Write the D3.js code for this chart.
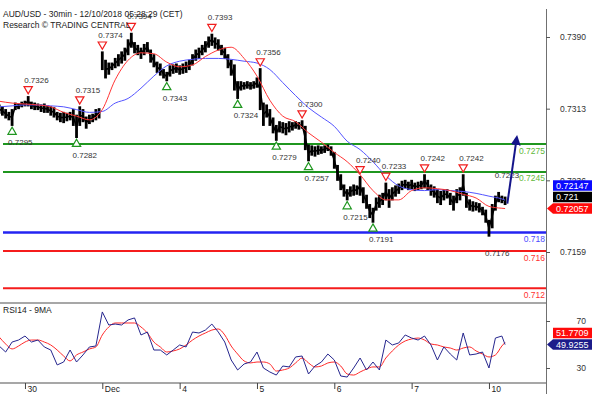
<!DOCTYPE html>
<html>
<head>
<meta charset="utf-8">
<script src="https://cdn.jsdelivr.net/npm/d3@7"></script>
<style>
  body { margin: 0; background: #fff; }
  svg text { font-family: "Liberation Sans", Arial, sans-serif; }
</style>
</head>
<body>
<div id="chart"></div>
<script>
const barHigh = [
  0.7317,0.7315,0.7312,0.7309,0.7312,0.7319,0.7318,0.7320,0.7321,0.7326,
  0.7320,0.7319,0.7318,0.7317,0.7318,0.7316,0.7315,0.7314,0.7309,0.7308,
  0.7309,0.7308,0.7309,0.7312,0.7306,0.7315,0.7312,0.7304,0.7306,0.7307,
  0.7312,0.7313,0.7374,0.7365,0.7362,0.7362,0.7367,0.7371,0.7374,0.7378,
  0.7387,0.7394,0.7384,0.7381,0.7378,0.7382,0.7384,0.7376,0.7371,0.7363,
  0.7361,0.7355,0.7352,0.7359,0.7360,0.7361,0.7359,0.7361,0.7363,0.7365,
  0.7371,0.7376,0.7378,0.7381,0.7385,0.7390,0.7393,0.7389,0.7387,0.7381,
  0.7378,0.7371,0.7365,0.7360,0.7342,0.7342,0.7341,0.7342,0.7341,0.7342,
  0.7346,0.7356,0.7319,0.7317,0.7312,0.7303,0.7295,0.7299,0.7298,0.7297,
  0.7299,0.7298,0.7299,0.7298,0.7300,0.7294,0.7274,0.7273,0.7272,0.7273,
  0.7272,0.7273,0.7274,0.7272,0.7266,0.7252,0.7242,0.7231,0.7226,0.7229,
  0.7231,0.7230,0.7240,0.7228,0.7220,0.7210,0.7206,0.7217,0.7220,0.7222,
  0.7233,0.7226,0.7228,0.7230,0.7232,0.7235,0.7236,0.7234,0.7236,0.7233,
  0.7234,0.7235,0.7242,0.7236,0.7231,0.7229,0.7226,0.7224,0.7226,0.7226,
  0.7222,0.7219,0.7226,0.7228,0.7242,0.7222,0.7215,0.7213,0.7212,0.7211,
  0.7207,0.7204,0.7193,0.7210,0.7219,0.7223,0.7219,0.7218
];
const barLow = [
  0.7308,0.7306,0.7303,0.7301,0.7295,0.7312,0.7313,0.7315,0.7316,0.7316,
  0.7313,0.7312,0.7312,0.7310,0.7309,0.7309,0.7306,0.7304,0.7301,0.7299,
  0.7298,0.7300,0.7301,0.7295,0.7282,0.7295,0.7299,0.7292,0.7297,0.7299,
  0.7301,0.7303,0.7355,0.7346,0.7350,0.7355,0.7357,0.7359,0.7362,0.7365,
  0.7371,0.7379,0.7373,0.7371,0.7367,0.7371,0.7374,0.7363,0.7358,0.7352,
  0.7349,0.7346,0.7343,0.7348,0.7351,0.7352,0.7350,0.7351,0.7352,0.7355,
  0.7360,0.7365,0.7367,0.7371,0.7374,0.7379,0.7381,0.7378,0.7376,0.7371,
  0.7367,0.7357,0.7349,0.7333,0.7324,0.7333,0.7334,0.7335,0.7334,0.7335,
  0.7336,0.7312,0.7295,0.7304,0.7295,0.7287,0.7279,0.7288,0.7287,0.7285,
  0.7288,0.7290,0.7292,0.7291,0.7292,0.7269,0.7257,0.7263,0.7262,0.7264,
  0.7265,0.7266,0.7268,0.7263,0.7249,0.7236,0.7226,0.7219,0.7215,0.7219,
  0.7220,0.7221,0.7220,0.7212,0.7206,0.7196,0.7191,0.7204,0.7207,0.7210,
  0.7215,0.7207,0.7215,0.7219,0.7222,0.7226,0.7228,0.7226,0.7227,0.7225,
  0.7226,0.7227,0.7228,0.7226,0.7220,0.7218,0.7212,0.7210,0.7215,0.7217,
  0.7210,0.7204,0.7212,0.7215,0.7220,0.7207,0.7204,0.7203,0.7204,0.7202,
  0.7199,0.7191,0.7176,0.7185,0.7204,0.7213,0.7212,0.7210
];

// moving averages, read every 4 bars
const maIdx = [0,4,8,12,16,20,24,28,32,36,40,44,48,52,56,60,64,68,72,76,80,
  84,88,92,96,100,104,108,112,116,120,124,128,132,136,140,144,148,152,156,157];
const maRed = [0.7321,0.7319,0.7318,0.7317,0.7315,0.7309,0.7305,0.7301,0.7312,0.7344,
  0.7365,0.7373,0.7372,0.7363,0.7358,0.7360,0.7369,0.7376,0.7379,0.7367,
  0.7348,0.7322,0.7305,0.7299,0.7287,0.7277,0.7266,0.7256,0.7242,0.7225,
  0.7215,0.7215,0.7225,0.7228,0.7227,0.7225,0.7221,0.7217,0.7208,0.7206,0.72057];
const maBlue = [0.7315,0.7316,0.7317,0.7317,0.7316,0.7315,0.7312,0.7309,0.7310,0.7319,
  0.7324,0.7335,0.7348,0.7359,0.7364,0.7366,0.7367,0.7367,0.7366,0.7364,
  0.7362,0.7355,0.7341,0.7327,0.7314,0.7304,0.7294,0.7278,0.7269,0.7256,
  0.7241,0.7230,0.7226,0.7225,0.7226,0.7225,0.7224,0.7222,0.7219,0.7216,0.72147];

// RSI14 and its 9MA, read every 2 bars
const rsiStep = 2;
const rsi = [
  48.7,43.6,52.1,53.8,57.2,52.1,53.8,47.9,45.3,32.6,35.1,45.3,35.1,41.1,47.9,48.7,
  77.7,66.6,67.4,66.6,70.9,72.6,58.1,60.6,45.3,45.3,41.1,45.3,49.6,47.9,60.6,59.8,
  62.3,67.4,60.6,52.1,36.8,28.3,33.4,35.1,43.6,30.0,26.6,24.0,31.7,30.9,39.4,40.2,
  24.9,31.7,35.1,41.9,36.8,23.2,22.3,30.0,38.5,28.3,35.1,28.3,53.8,49.6,51.3,58.1,
  55.5,53.8,57.2,49.6,36.8,47.9,41.9,36.8,59.8,41.1,41.9,43.6,30.0,55.5,57.2
];
const rsiMa = [
  56.4,50.4,46.2,48.7,52.1,53.8,53.8,52.1,49.6,45.3,40.2,36.0,41.1,43.6,46.2,47.9,
  58.1,64.9,68.3,68.3,68.3,68.3,64.9,59.8,52.1,47.9,43.6,44.5,46.2,49.6,53.8,57.2,
  59.8,62.3,63.2,58.1,48.7,41.9,36.0,34.3,35.1,35.1,33.4,27.4,28.3,30.0,34.3,38.5,
  34.3,30.9,31.7,34.3,35.1,31.7,24.9,24.0,26.6,29.1,30.9,30.9,38.5,44.5,49.6,53.0,
  54.7,55.5,53.8,50.4,49.6,47.9,47.0,45.3,47.0,47.9,44.5,41.9,39.4,41.1,48.7
];
const lastIdx = 157;
const rsiLast = 49.9255;
const rsiMaLast = 51.7709;

// support / resistance levels
const levels = [0.7275, 0.7245, 0.718, 0.716, 0.712];
const levelText = ['0.7275', '0.7245', '0.718', '0.716', '0.712'];
const levelKind = ['g', 'g', 'b', 'r', 'r'];

// pivots: [bar index, price, draw triangle]
const pivotHighs = [[9,0.7326,1],[25,0.7315,1],[32,0.7374,1],[41,0.7394,1],[66,0.7393,1],
  [81,0.7356,1],[94,0.7300,1],[112,0.7240,1],[120,0.7233,1],[132,0.7242,1],[144,0.7242,1],[155,0.7223,0]];
const pivotLows = [[4,0.7295,1],[24,0.7282,1],[52,0.7343,1],[74,0.7324,1],[86,0.7279,1],
  [96,0.7257,1],[108,0.7215,1],[116,0.7191,1],[152,0.7176,0]];

const priceTicks = [0.7390, 0.7313, 0.7236, 0.7159];
const rsiTicks = [70, 30];
const dayIdx = [8, 32, 56, 80, 104, 128, 152];
const dayLabels = ['30', 'Dec', '4', '5', '6', '7', '10'];

const lastPrice = 0.721;
const arrowFrom = [157.7, 0.7211];
const arrowTo = [160.3, 0.7274];

// ---- layout
const W = 593, H = 394;
const plotR = 546;
const col = {
  g: '#1f961f', gText: '#5fb83a', b: '#2424f2', bText: '#4a4aff', r: '#f51c1c', rText: '#ff3030',
  maRed: '#ff3535', maBlue: '#5454ff', rsi: '#26268e', rsiMa: '#ff2a2a', axis: '#8a8a8a', text: '#333'
};

const svg = d3.select('#chart').append('svg').attr('width', W).attr('height', H);

const x = d3.scaleLinear().domain([0, 169.7]).range([-0.8, plotR]);
const y = d3.scaleLinear().domain([0.7159, 0.7390]).range([252, 37]);
const yr = d3.scaleLinear().domain([30, 70]).range([368, 321]);

const defs = svg.append('defs');
defs.append('clipPath').attr('id', 'clipMain')
  .append('rect').attr('x', 0).attr('y', 9).attr('width', plotR).attr('height', 292);
defs.append('clipPath').attr('id', 'clipRsi')
  .append('rect').attr('x', 0).attr('y', 304).attr('width', plotR).attr('height', 78);
defs.append('marker').attr('id', 'head')
  .attr('viewBox', '0 0 10 10').attr('refX', 0).attr('refY', 5)
  .attr('markerWidth', 5).attr('markerHeight', 5).attr('orient', 'auto')
  .append('path').attr('d', 'M0,0L10,5L0,10Z').attr('fill', '#14148a');

const main = svg.append('g').attr('clip-path', 'url(#clipMain)');

// level lines
levels.forEach((v, i) => {
  const k = levelKind[i];
  main.append('line')
    .attr('x1', 3).attr('x2', plotR)
    .attr('y1', y(v)).attr('y2', y(v))
    .attr('stroke', col[k])
    .attr('stroke-width', k === 'b' ? 2.5 : 2);
});

// price bars
main.selectAll('.bar')
  .data(barHigh)
  .join('line')
  .attr('class', 'bar')
  .attr('x1', (d, i) => x(i)).attr('x2', (d, i) => x(i))
  .attr('y1', d => y(d) - 0.5)
  .attr('y2', (d, i) => y(barLow[i]) + 0.5)
  .attr('stroke', '#000')
  .attr('stroke-width', 2.8);

main.append('path')
  .datum(barHigh)
  .attr('fill', 'none')
  .attr('stroke', '#000')
  .attr('stroke-width', 1.6)
  .attr('d', d3.line()
    .defined((d, i) => i !== 32)
    .x((d, i) => x(i))
    .y((d, i) => y((d + barLow[i]) / 2)));

// moving averages
const maLine = d3.line()
  .x((d, i) => x(maIdx[i]))
  .y(d => y(d))
  .curve(d3.curveMonotoneX);

main.append('path').datum(maBlue)
  .attr('fill', 'none').attr('stroke', col.maBlue).attr('stroke-width', 1)
  .attr('d', maLine);
main.append('path').datum(maRed)
  .attr('fill', 'none').attr('stroke', col.maRed).attr('stroke-width', 1)
  .attr('d', maLine);

// pivot markers
const tri = d3.symbol(d3.symbolTriangle, 30);

pivotHighs.forEach(([i, p, t]) => {
  if (t) {
    main.append('path')
      .attr('d', tri)
      .attr('transform', `translate(${x(i)},${y(p) - 7.5}) rotate(180)`)
      .attr('fill', '#fff').attr('stroke', '#f01e1e').attr('stroke-width', 1.2);
  }
  main.append('text')
    .attr('x', x(i) - 4).attr('y', y(p) - 14)
    .style('font-size', '8px').style('fill', col.text)
    .text(p.toFixed(4));
});

pivotLows.forEach(([i, p, t]) => {
  if (t) {
    main.append('path')
      .attr('d', tri)
      .attr('transform', `translate(${x(i)},${y(p) + 6.5})`)
      .attr('fill', '#fff').attr('stroke', '#1f961f').attr('stroke-width', 1.2);
  }
  main.append('text')
    .attr('x', x(i) - 4).attr('y', y(p) + 20)
    .style('font-size', '8px').style('fill', col.text)
    .text(p.toFixed(4));
});

// forecast arrow
main.append('line')
  .attr('x1', x(arrowFrom[0])).attr('y1', y(arrowFrom[1]))
  .attr('x2', x(arrowTo[0])).attr('y2', y(arrowTo[1]))
  .attr('stroke', '#14148a').attr('stroke-width', 2)
  .attr('marker-end', 'url(#head)');

// level labels
levels.forEach((v, i) => {
  const k = levelKind[i];
  main.append('text')
    .attr('x', plotR - 1).attr('y', y(v) + 9.5)
    .attr('text-anchor', 'end')
    .style('font-size', '8.5px')
    .style('fill', col[k + 'Text'])
    .text(levelText[i]);
});

// RSI panel
const rsiG = svg.append('g').attr('clip-path', 'url(#clipRsi)');
const rsiPts = rsi.map((v, i) => [i * rsiStep, v]).concat([[lastIdx, rsiLast]]);
const rsiMaPts = rsiMa.map((v, i) => [i * rsiStep, v]).concat([[lastIdx, rsiMaLast]]);
const rLine = d3.line().x(d => x(d[0])).y(d => yr(d[1]));

rsiG.append('path').datum(rsiMaPts)
  .attr('fill', 'none').attr('stroke', col.rsiMa).attr('stroke-width', 1)
  .attr('d', rLine.curve(d3.curveMonotoneX));
rsiG.append('path').datum(rsiPts)
  .attr('fill', 'none').attr('stroke', col.rsi).attr('stroke-width', 1)
  .attr('d', rLine.curve(d3.curveLinear));

svg.append('text')
  .attr('x', 3).attr('y', 313)
  .style('font-size', '8.5px').style('fill', '#222')
  .text('RSI14 - 9MA');

// panel frames
[303, 383].forEach(v => {
  svg.append('line')
    .attr('x1', 0).attr('x2', plotR)
    .attr('y1', v).attr('y2', v)
    .attr('stroke', col.axis).attr('stroke-width', 1.5);
});
svg.append('line')
  .attr('x1', plotR + 0.5).attr('x2', plotR + 0.5)
  .attr('y1', 9).attr('y2', H)
  .attr('stroke', '#707070').attr('stroke-width', 1);

// right axes
const priceAxis = svg.append('g')
  .attr('transform', `translate(${plotR},0)`)
  .call(d3.axisRight(y).tickValues(priceTicks).tickSize(4).tickFormat(d3.format('.4f')));
const rsiAxis = svg.append('g')
  .attr('transform', `translate(${plotR},0)`)
  .call(d3.axisRight(yr).tickValues(rsiTicks).tickSize(4));
[priceAxis, rsiAxis].forEach(g => {
  g.select('.domain').remove();
  g.selectAll('line').attr('stroke', '#555');
  g.selectAll('text')
    .attr('x', 40).attr('text-anchor', 'end')
    .style('font-size', '8.5px').style('fill', col.text)
    .style('font-family', '"Liberation Sans", Arial, sans-serif');
});

// bottom time axis
const xAxis = svg.append('g')
  .attr('transform', 'translate(0,383)')
  .call(d3.axisBottom(x).tickValues(dayIdx).tickSize(6)
    .tickFormat((d, i) => dayLabels[i]));
xAxis.select('.domain').remove();
xAxis.selectAll('line').attr('stroke', '#444');
xAxis.selectAll('text')
  .attr('x', 2).attr('y', 3).attr('dy', '0.71em')
  .attr('text-anchor', 'start')
  .style('font-size', '8.5px').style('fill', '#222')
  .style('font-family', '"Liberation Sans", Arial, sans-serif');

// value tags on the right
function tag(yc, text, fill, arrow) {
  const h = 10.5, x0 = 553, x1 = 592;
  const d = arrow
    ? `M${plotR + 1},${yc}L${x0},${yc - h / 2}L${x1},${yc - h / 2}L${x1},${yc + h / 2}L${x0},${yc + h / 2}Z`
    : `M${x0},${yc - h / 2}L${x1},${yc - h / 2}L${x1},${yc + h / 2}L${x0},${yc + h / 2}Z`;
  svg.append('path').attr('d', d).attr('fill', fill);
  svg.append('text')
    .attr('x', 556).attr('y', yc).attr('dy', '0.35em')
    .style('font-size', '9px').style('fill', '#fff')
    .text(text);
}
const redY = y(maRed[maRed.length - 1]);
tag(redY - 23, String(maBlue[maBlue.length - 1]), '#0a0aff', false);
tag(redY - 11.5, String(lastPrice), '#000', false);
tag(redY, String(maRed[maRed.length - 1]), '#ff0a0a', true);

const rsiY = yr(rsiLast);
tag(rsiY - 11.5, String(rsiMaLast), '#ff0a0a', false);
tag(rsiY, String(rsiLast), '#1c1c8a', true);

// title
svg.append('text')
  .attr('x', 3).attr('y', 17)
  .style('font-size', '8.5px').style('fill', '#222')
  .text('AUD/USD - 30min - 12/10/2018 05:28:29 (CET)');
svg.append('text')
  .attr('x', 3).attr('y', 28)
  .style('font-size', '8.5px').style('fill', '#222')
  .text('Research \u00a9 TRADING CENTRAL');
</script>
</body>
</html>
